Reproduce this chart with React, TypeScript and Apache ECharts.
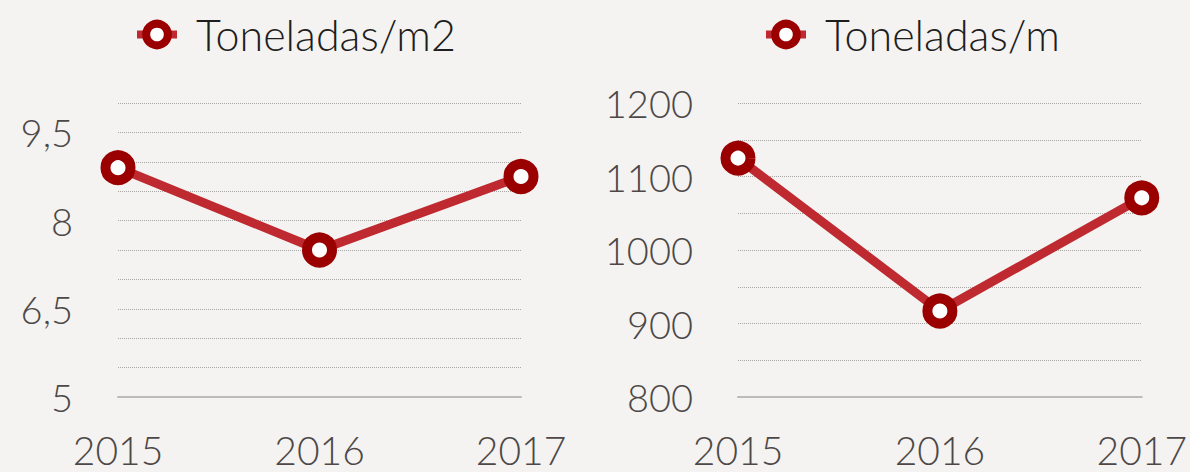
import React, { useEffect, useRef } from "react";
import * as echarts from "echarts";

const years = ["2015", "2016", "2017"];
const tonPerM2 = [8.9, 7.5, 8.75];
const tonPerM = [1125, 917, 1071];
const seriesNames = ["Toneladas/m2", "Toneladas/m"];

const FONT = "Lato";
const LINE = "#BE2A30";
const MARK = "#9A0000";

export default function App() {
  const ref = useRef<HTMLDivElement>(null);
  useEffect(() => {
    if (!ref.current) return;
    const chart = echarts.init(ref.current, null, { renderer: "svg" });
    const xAxisBase = (gridIndex: number) => ({
      type: "category" as const,
      gridIndex,
      data: years,
      boundaryGap: false,
      axisLine: { show: true, lineStyle: { color: "#bdbbb8", width: 2 } },
      axisTick: { show: false },
      axisLabel: { color: "#4d4847", fontSize: 39, fontFamily: FONT, fontWeight: 300, margin: 33 },
      splitLine: { show: false },
    });
    const seriesBase = (name: string, data: number[], idx: number) => ({
      name,
      type: "line" as const,
      xAxisIndex: idx,
      yAxisIndex: idx,
      data,
      symbol: "circle",
      symbolSize: 25,
      lineStyle: { color: LINE, width: 9 },
      itemStyle: { color: "#ffffff", borderColor: MARK, borderWidth: 10 },
      z: 3,
    });
    const legendBase = (left: number, name: string) => ({
      data: [name],
      left,
      top: 8,
      itemWidth: 40,
      itemHeight: 27,
      itemStyle: { color: "#ffffff", borderColor: MARK, borderWidth: 8 },
      lineStyle: { color: LINE, width: 8 },
      textStyle: { color: "#1e1e1e", fontSize: 43, fontFamily: FONT, fontWeight: 300, padding: [0, 0, 0, 14] },
    });
    chart.setOption({
      animation: false,
      backgroundColor: "#F4F3F1",
      legend: [legendBase(128, seriesNames[0]), legendBase(757, seriesNames[1])],
      grid: [
        { left: 118, width: 403, top: 103, height: 294 },
        { left: 738, width: 405, top: 103, height: 294 },
      ],
      xAxis: [xAxisBase(0), xAxisBase(1)],
      yAxis: [
        {
          type: "value",
          gridIndex: 0,
          min: 5,
          max: 10,
          interval: 0.5,
          axisLine: { show: false },
          axisTick: { show: false },
          axisLabel: {
            color: "#4d4847",
            fontSize: 38,
            fontFamily: FONT,
            fontWeight: 300,
            margin: 45,
            formatter: (v: number) => {
              const k = (v - 5) / 1.5;
              return Math.abs(k - Math.round(k)) < 1e-6 ? String(v).replace(".", ",") : "";
            },
          },
          splitLine: { show: true, lineStyle: { color: "#a9a7a4", width: 1, type: "dotted" } },
        },
        {
          type: "value",
          gridIndex: 1,
          min: 800,
          max: 1200,
          interval: 50,
          axisLine: { show: false },
          axisTick: { show: false },
          axisLabel: {
            color: "#4d4847",
            fontSize: 38,
            fontFamily: FONT,
            fontWeight: 300,
            margin: 45,
            formatter: (v: number) => (v % 100 === 0 ? String(v) : ""),
          },
          splitLine: { show: true, lineStyle: { color: "#a9a7a4", width: 1, type: "dotted" } },
        },
      ],
      series: [seriesBase(seriesNames[0], tonPerM2, 0), seriesBase(seriesNames[1], tonPerM, 1)],
    });
    return () => chart.dispose();
  }, []);
  return (
    <div
      ref={ref}
      style={{ position: "fixed", left: 0, top: 0, width: 1190, height: 472, background: "#F4F3F1" }}
    />
  );
}
